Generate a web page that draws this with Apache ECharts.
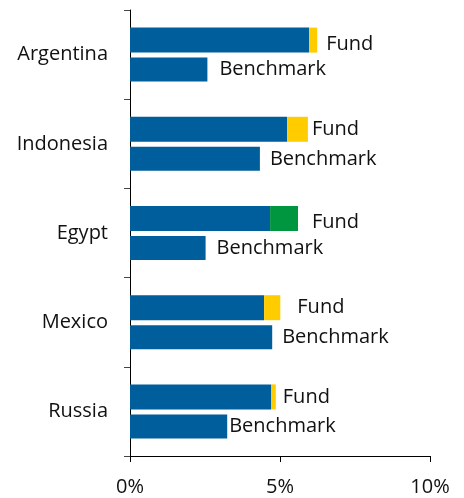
<!DOCTYPE html>
<html>
<head>
<meta charset="utf-8">
<script src="https://cdn.jsdelivr.net/npm/echarts@6/dist/echarts.min.js"></script>
<style>
  html, body { margin: 0; padding: 0; background: #fff; }
  #main { width: 464px; height: 498px; }
</style>
</head>
<body>
<div id="main"></div>
<script>
// values in %
var countries = ['Argentina', 'Indonesia', 'Egypt', 'Mexico', 'Russia'];
var fundBase = [5.97, 5.24, 4.67, 4.47, 4.70];
var fundExtra = [0.27, 0.69, 0.93, 0.54, 0.16];
var benchmark = [2.58, 4.33, 2.52, 4.74, 3.24];
var xTicks = [0, 5, 10];

// styling per row (label gaps as seen in the picture)
var extraColors = ['#ffcc00', '#ffcc00', '#00963f', '#ffcc00', '#ffcc00'];
var fundGap = [9, 4, 14, 17, 7];
var fundDrop = [4, 0, 4, 0, 0];
var benchGap = [12, 10, 11, 10, 2];

var blue = '#005e9c';
var font = 'Open Sans';

var chart = echarts.init(document.getElementById('main'));

var extraData = fundExtra.map(function (v, i) {
	return {
		value: v,
		itemStyle: { color: extraColors[i] },
		label: { distance: fundGap[i], offset: [0, fundDrop[i]] }
	};
});
var benchData = benchmark.map(function (v, i) {
	return { value: v, label: { distance: benchGap[i] } };
});

chart.setOption({
	animation: false,
	grid: { left: 130, right: 34, top: 10, bottom: 42, containLabel: false },
	xAxis: {
		type: 'value',
		min: xTicks[0],
		max: xTicks[xTicks.length - 1],
		interval: 5,
		axisLine: { show: true, lineStyle: { color: '#000', width: 1 } },
		axisTick: { show: true, length: 6, lineStyle: { color: '#000' } },
		splitLine: { show: false },
		axisLabel: {
			formatter: '{value}%',
			color: '#111',
			fontFamily: font,
			fontSize: 20,
			margin: 21
		}
	},
	yAxis: {
		type: 'category',
		inverse: true,
		data: countries,
		axisLine: { show: true, lineStyle: { color: '#000', width: 1 } },
		axisTick: { show: true, length: 6, lineStyle: { color: '#444' } },
		axisLabel: {
			color: '#111',
			fontFamily: font,
			fontSize: 20,
			margin: 22
		}
	},
	series: [
		{
			name: 'Fund',
			type: 'bar',
			stack: 'fund',
			barWidth: 25,
			barGap: '20%',
			itemStyle: { color: blue },
			data: fundBase
		},
		{
			name: 'Fund extra',
			type: 'bar',
			stack: 'fund',
			barWidth: 25,
			label: {
				show: true,
				position: 'right',
				formatter: 'Fund',
				color: '#111',
				fontFamily: font,
				fontSize: 20
			},
			data: extraData
		},
		{
			name: 'Benchmark',
			type: 'bar',
			barWidth: 24,
			barGap: '20%',
			itemStyle: { color: blue },
			label: {
				show: true,
				position: 'right',
				formatter: 'Benchmark',
				color: '#111',
				fontFamily: font,
				fontSize: 20
			},
			data: benchData
		}
	]
});
</script>
</body>
</html>
